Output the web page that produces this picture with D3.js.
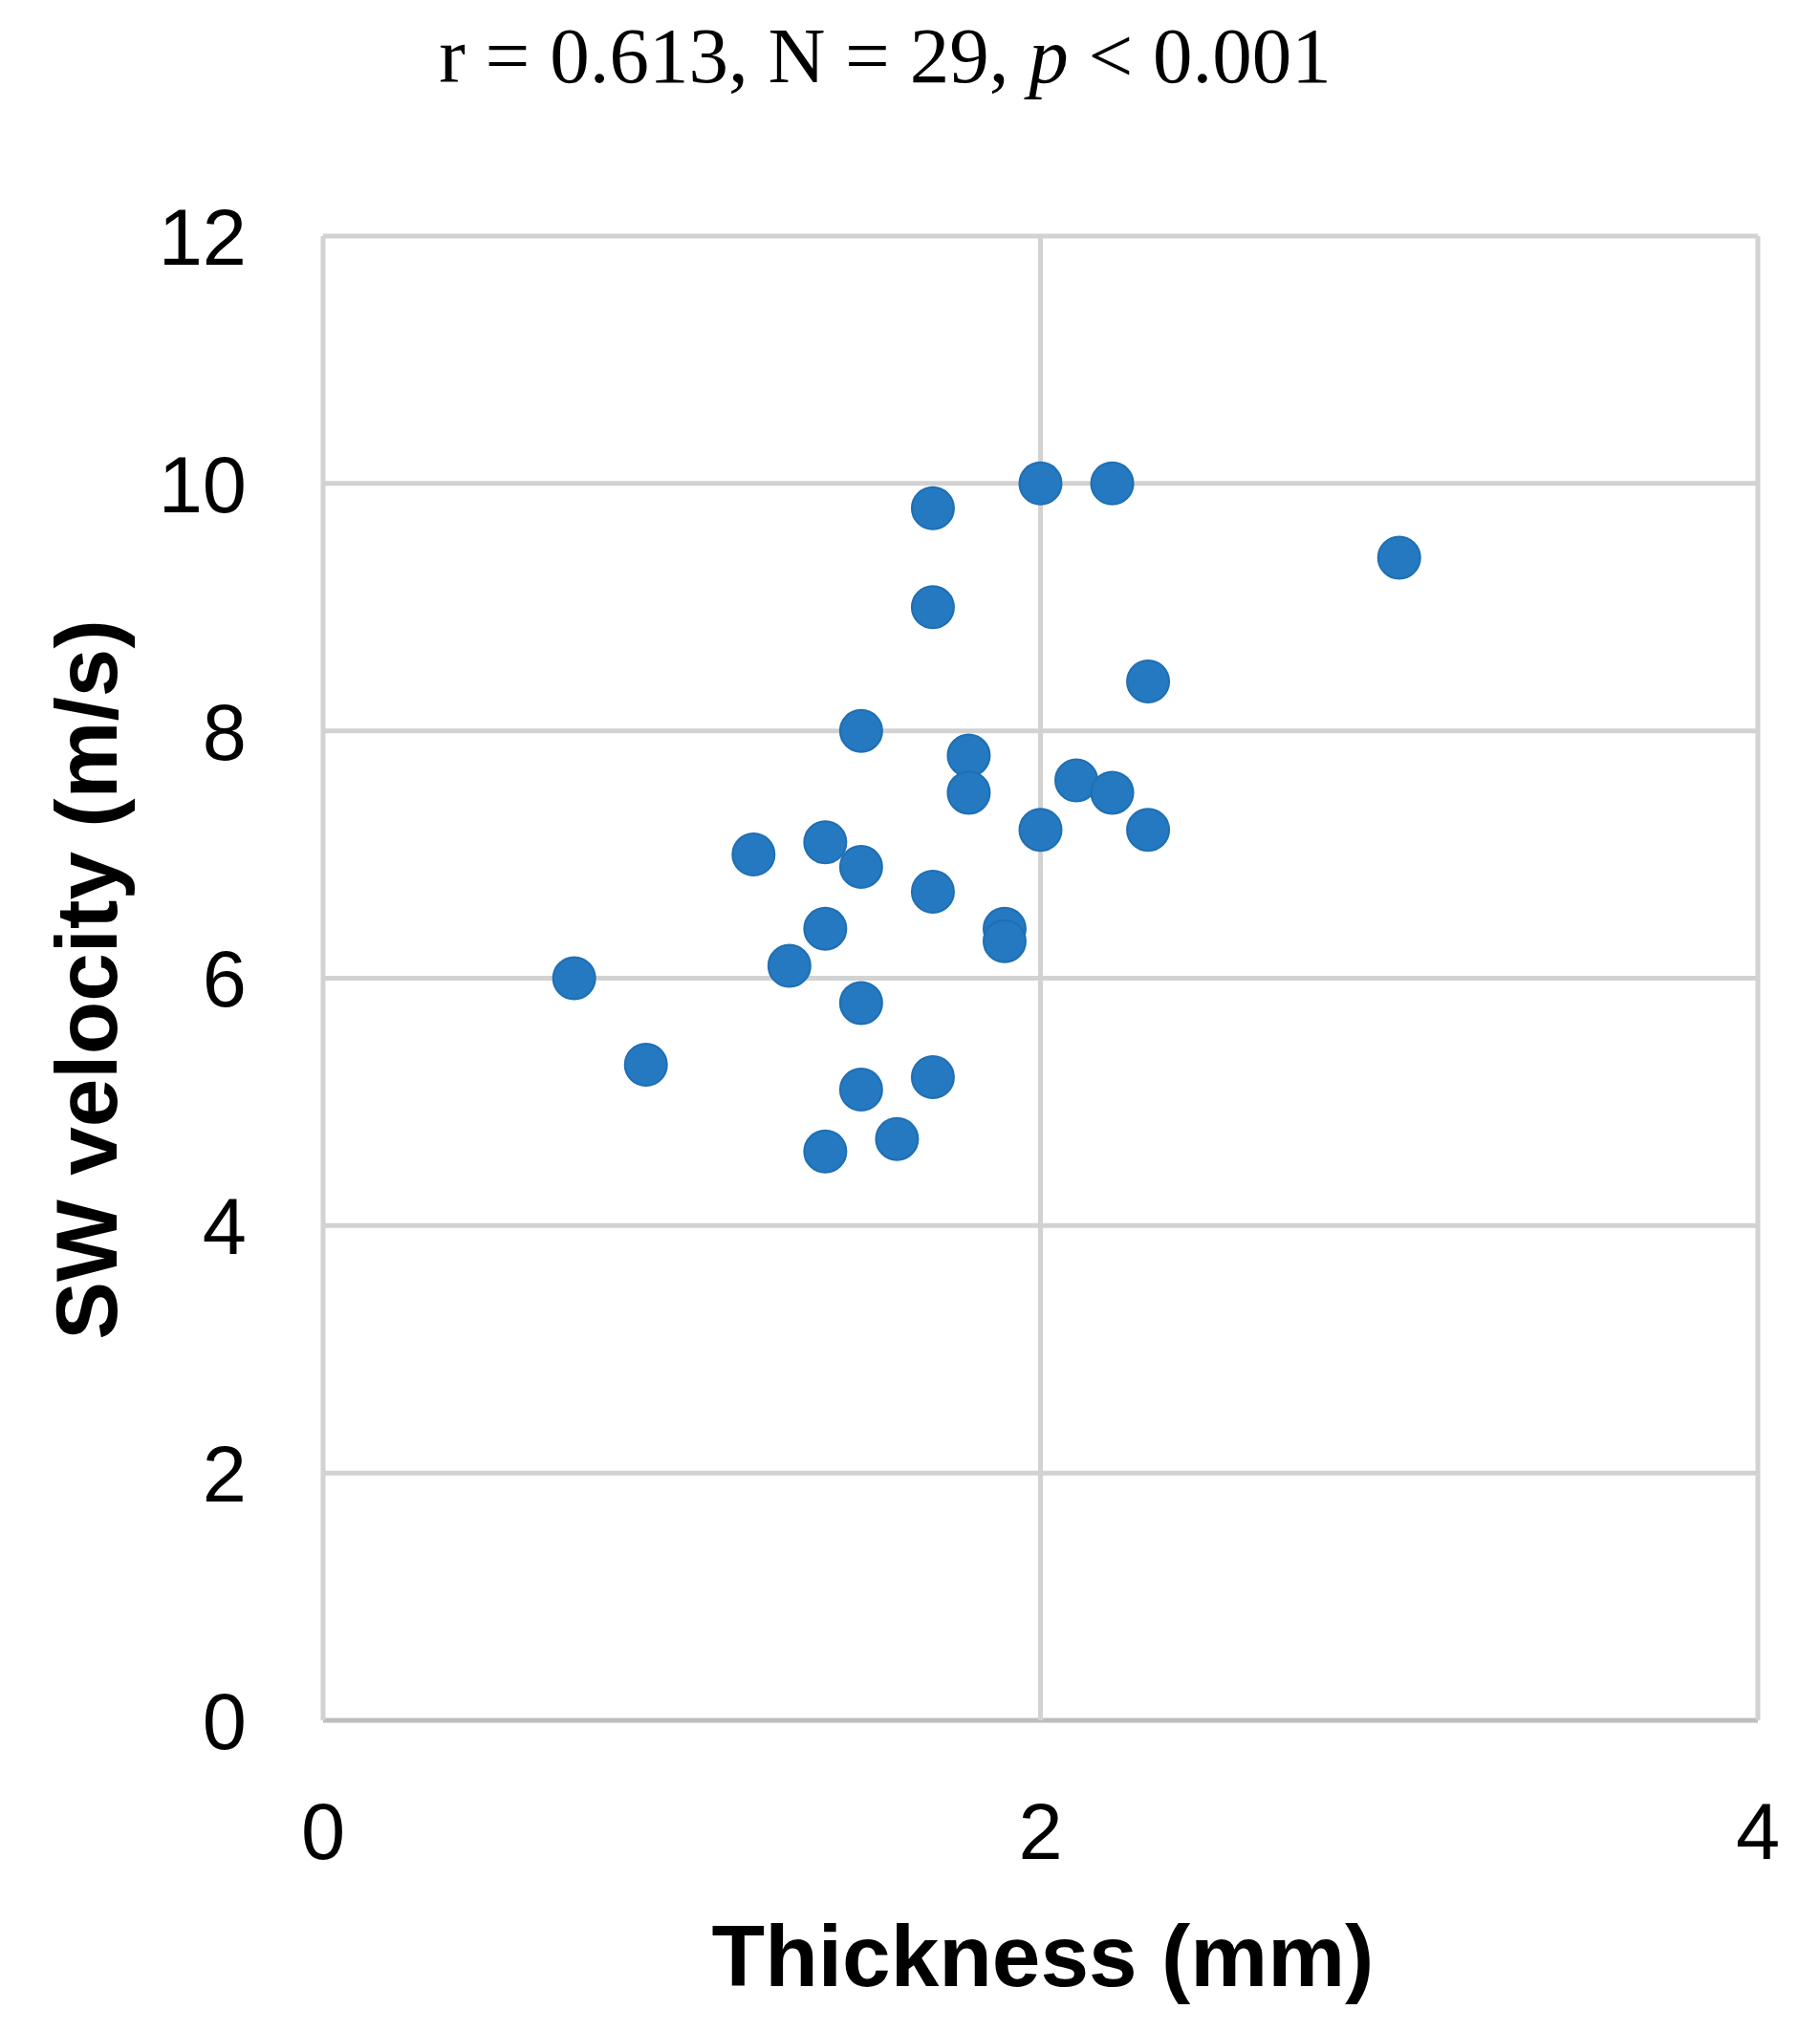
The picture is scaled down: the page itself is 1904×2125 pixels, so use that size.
<!DOCTYPE html>
<html><head><meta charset="utf-8">
<script src="https://cdn.jsdelivr.net/npm/d3@7"></script>
<style>body{margin:0;background:#fff}</style></head>
<body><svg id="c" width="1904" height="2125"></svg>
<script>
const thickness = [0.7,0.9,1.2,1.3,1.4,1.4,1.4,1.5,1.5,1.5,1.5,1.6,1.7,1.7,1.7,1.7,1.8,1.8,1.9,1.9,2.0,2.0,2.1,2.2,2.2,2.3,2.3,3.0];
const velocity  = [6.0,5.3,7.0,6.1,7.1,6.4,4.6,8.0,6.9,5.8,5.1,4.7,9.8,9.0,6.7,5.2,7.8,7.5,6.4,6.3,10.0,7.2,7.6,10.0,7.5,8.4,7.2,9.4];
const xTicks = [0,2,4];
const yTicks = [0,2,4,6,8,10,12];

const svg = d3.select("#c");
const L=338,R=1839,T=247,B=1800;
const x = d3.scaleLinear().domain([0,4]).range([L,R]);
const y = d3.scaleLinear().domain([0,12]).range([B,T]);
const grid="#d2d2d2";
svg.append("g").selectAll("line").data(yTicks).join("line")
  .attr("x1",L).attr("x2",R).attr("y1",d=>y(d)).attr("y2",d=>y(d))
  .attr("stroke",d=>d===0?"#bdbdbd":grid).attr("stroke-width",5);
svg.append("g").selectAll("line").data(xTicks).join("line")
  .attr("y1",T).attr("y2",B).attr("x1",d=>x(d)).attr("x2",d=>x(d))
  .attr("stroke",grid).attr("stroke-width",5);
svg.append("g").selectAll("text").data(yTicks).join("text")
  .attr("x",L-80).attr("y",d=>y(d)).attr("dy","0.36em").attr("text-anchor","end")
  .attr("font-family","Liberation Sans, Arial").attr("font-size",83).text(d=>d);
svg.append("g").selectAll("text").data(xTicks).join("text")
  .attr("x",d=>x(d)).attr("y",1945).attr("text-anchor","middle")
  .attr("font-family","Liberation Sans, Arial").attr("font-size",83).text(d=>d);
svg.append("g").selectAll("circle").data(thickness).join("circle")
  .attr("cx",d=>x(d)).attr("cy",(d,i)=>y(velocity[i])).attr("r",22)
  .attr("fill","#2479c1").attr("stroke","#1f6fb3").attr("stroke-width",2);
svg.append("text").attr("x",1091).attr("y",2078).attr("text-anchor","middle")
  .attr("font-family","Liberation Sans, Arial").attr("font-weight","bold").attr("font-size",91)
  .text("Thickness (mm)");
svg.append("text").attr("transform","translate(122,1025) rotate(-90)").attr("text-anchor","middle")
  .attr("font-family","Liberation Sans, Arial").attr("font-weight","bold").attr("font-size",91)
  .text("SW velocity (m/s)");
const t = svg.append("text").attr("x",926).attr("y",86).attr("text-anchor","middle")
  .attr("font-family","Liberation Serif, serif").attr("font-size",83);
t.append("tspan").text("r = 0.613, N = 29, ");
t.append("tspan").attr("font-style","italic").text("p");
t.append("tspan").text(" < 0.001");
</script></body></html>
